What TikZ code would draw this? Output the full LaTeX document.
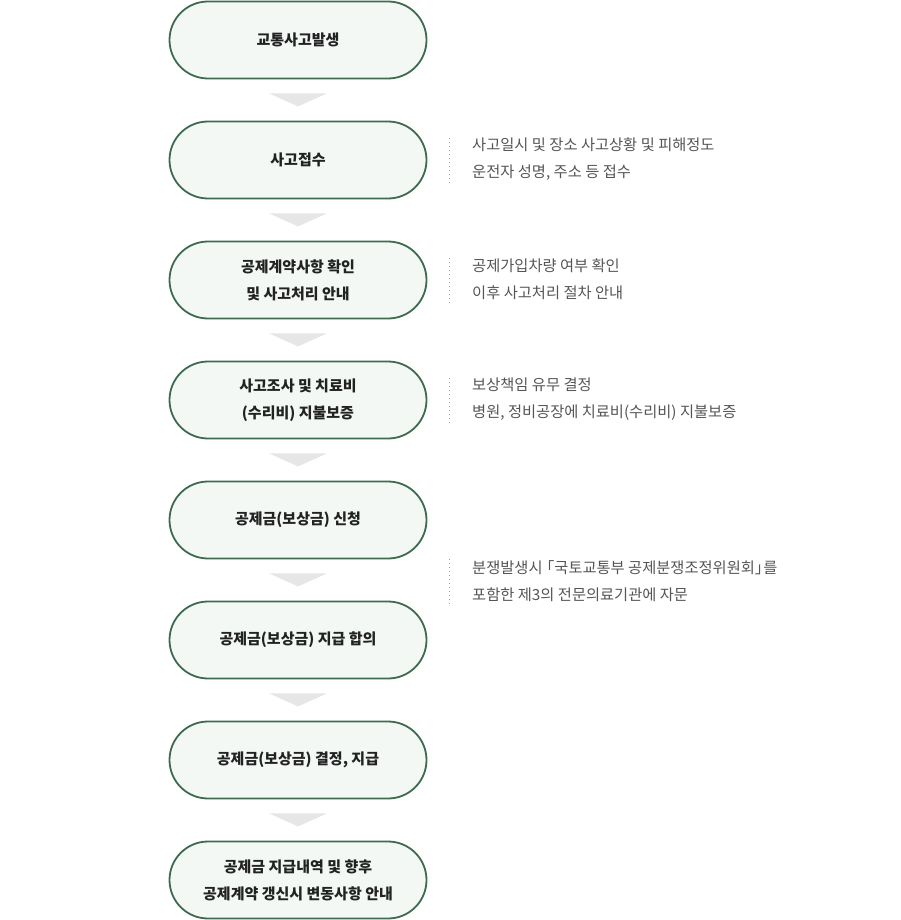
\documentclass[tikz,border=0pt]{standalone}
\usepackage{fontspec}
\setmainfont{Noto Sans CJK KR}
\definecolor{boxline}{HTML}{3E6B4F}
\definecolor{boxfill}{HTML}{F3F8F5}
\definecolor{boxtext}{HTML}{222222}
\definecolor{desctext}{HTML}{555555}
\definecolor{arrowgray}{HTML}{E6E6E6}
\definecolor{dotgray}{HTML}{A0A0A0}
\newcommand{\openbr}{\makebox[0.55em][r]{「}}
\newcommand{\closebr}{\makebox[0.55em][l]{」}}
\tikzset{
  stagebox/.style={draw=boxline, line width=1.8pt, fill=boxfill, rounded corners=38.5pt,
    minimum width=257pt, minimum height=77pt, inner sep=0pt, align=center,
    text=boxtext, font=\fontsize{15}{27}\selectfont\bfseries},
  desc/.style={anchor=west, align=left, text=desctext, inner sep=0pt,
    font=\fontsize{15.3}{27}\selectfont},
  dotline/.style={draw=dotgray, line width=1.3pt, dash pattern=on 1.3pt off 2.7pt},
  chevron/.style={fill=arrowgray, draw=none}
}
\begin{document}
\begin{tikzpicture}[x=1pt,y=-1pt]
\useasboundingbox (0,0) rectangle (900,920);
\node[stagebox] (b1) at (298,40) {교통사고발생};
\node[stagebox] (b2) at (298,160) {사고접수};
\node[stagebox] (b3) at (298,280) {공제계약사항 확인\\및 사고처리 안내};
\node[stagebox] (b4) at (298,400) {사고조사 및 치료비\\(수리비) 지불보증};
\node[stagebox] (b5) at (298,520) {공제금(보상금) 신청};
\node[stagebox] (b6) at (298,640) {공제금(보상금) 지급 합의};
\node[stagebox] (b7) at (298,760) {공제금(보상금) 결정, 지급};
\node[stagebox] (b8) at (298,880) {공제금 지급내역 및 향후\\공제계약 갱신시 변동사항 안내};
\foreach \a in {b1,b2,b3,b4,b5,b6,b7}{
  \path[chevron] ([xshift=-29pt,yshift=-14pt]\a.south) -- ([xshift=29pt,yshift=-14pt]\a.south)
    -- ([yshift=-27pt]\a.south) -- cycle;
}
\node[desc] (d2) at (472,159) {사고일시 및 장소 사고상황 및 피해정도\\운전자 성명, 주소 등 접수};
\node[desc] (d3) at (472,279) {공제가입차량 여부 확인\\이후 사고처리 절차 안내};
\node[desc] (d4) at (472,399) {보상책임 유무 결정\\병원, 정비공장에 치료비(수리비) 지불보증};
\node[desc] (d6) at (472,581) {분쟁발생시 \openbr 국토교통부 공제분쟁조정위원회\closebr 를\\포함한 제3의 전문의료기관에 자문};
\coordinate (t2) at (449.5,138); \coordinate (e2) at (449.5,183);
\coordinate (t3) at (449.5,258); \coordinate (e3) at (449.5,303);
\coordinate (t4) at (449.5,378); \coordinate (e4) at (449.5,423);
\coordinate (t6) at (449.5,559); \coordinate (e6) at (449.5,604);
\draw[dotline] (t2) -- (e2);
\draw[dotline] (t3) -- (e3);
\draw[dotline] (t4) -- (e4);
\draw[dotline] (t6) -- (e6);
\end{tikzpicture}
\end{document}
